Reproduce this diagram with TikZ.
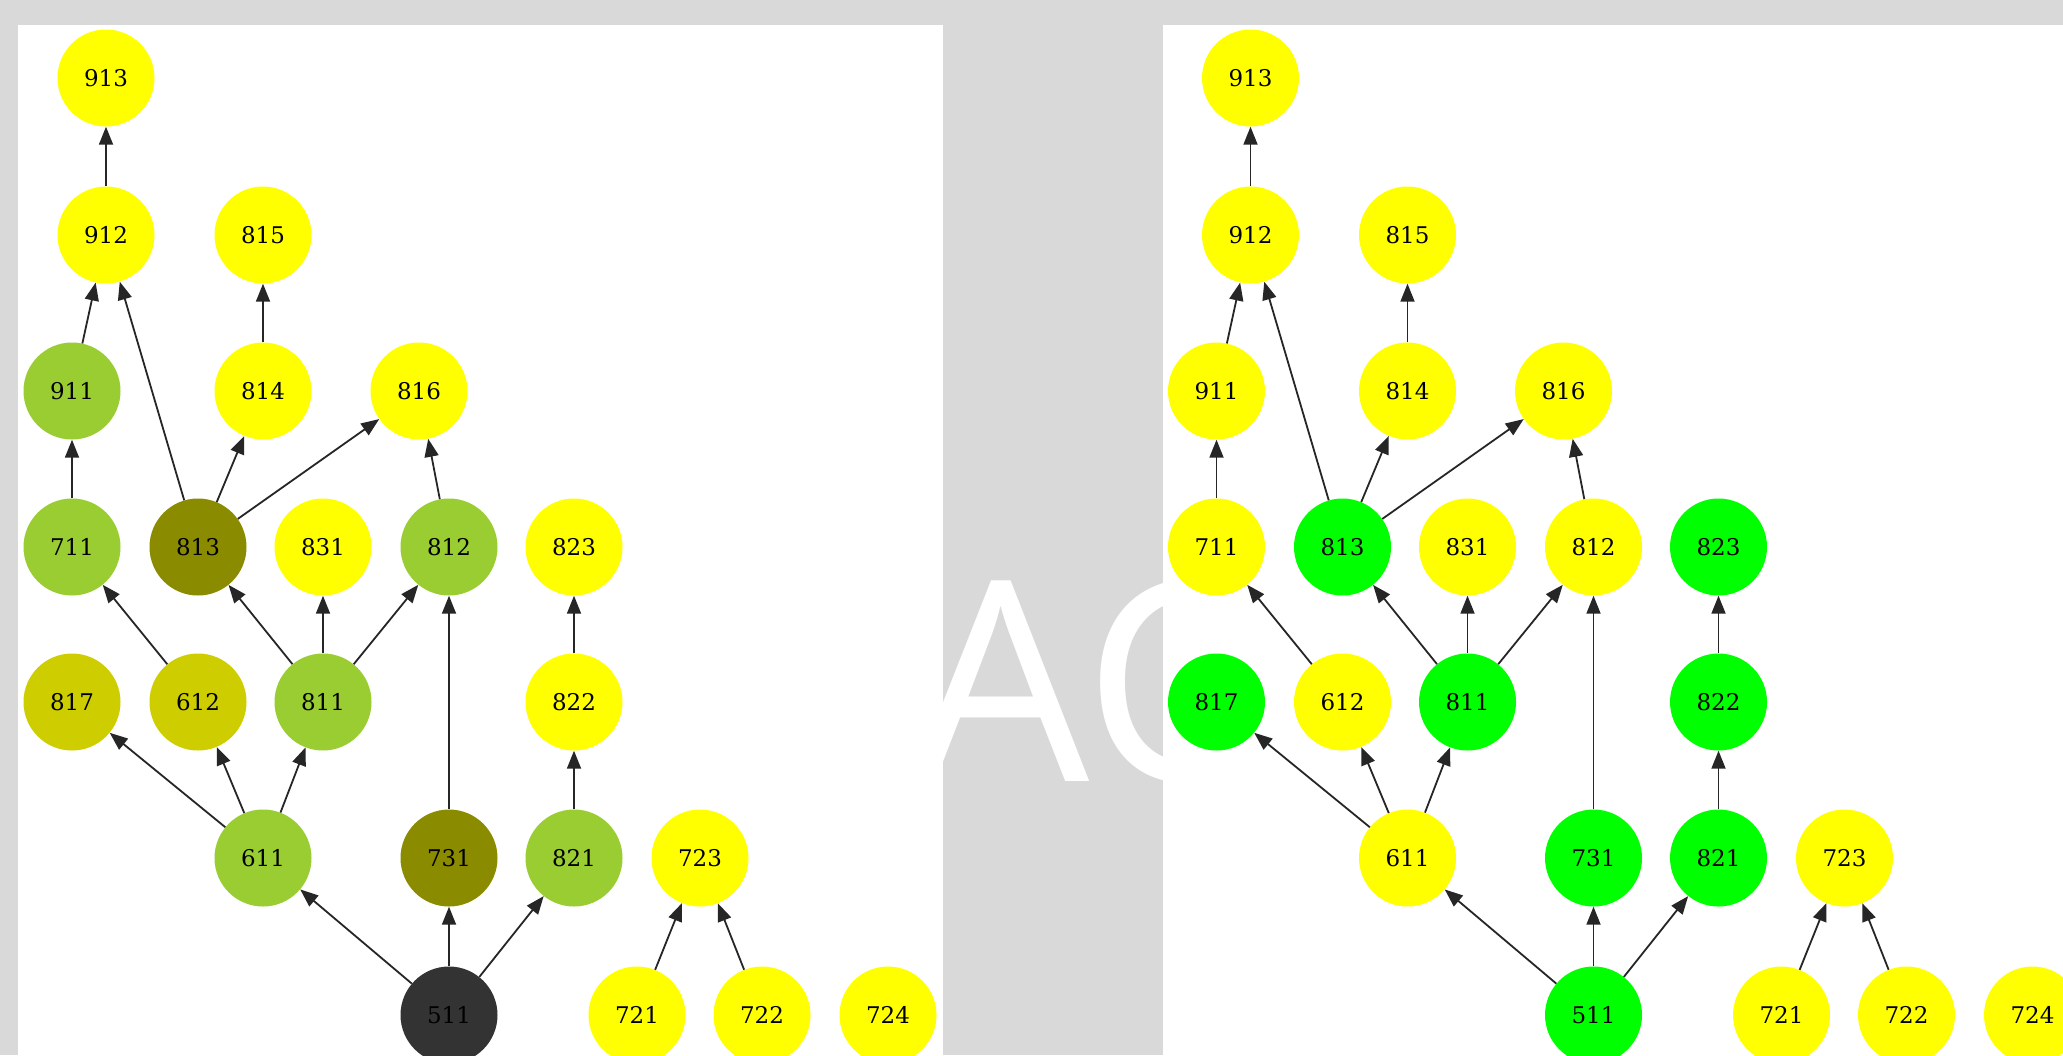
\documentclass[tikz,border=0pt]{standalone}
\usepackage{fontspec}
\setmainfont{DejaVu Serif}
\newfontfamily\wmfont{Open Sans}
\usetikzlibrary{arrows.meta}
\definecolor{bggray}{HTML}{D9D9D9}
\definecolor{ygreen}{HTML}{9ACD32}
\definecolor{yfour}{HTML}{8B8B00}
\definecolor{ythree}{HTML}{CDCD00}
\definecolor{greytwenty}{HTML}{333333}
\definecolor{gvgreen}{HTML}{00FF00}
\definecolor{gvyellow}{HTML}{FFFF00}
\tikzset{
	vert/.style={circle, fill=#1, minimum size=97pt, inner sep=0pt, font=\fontsize{23}{23}\selectfont},
	dep/.style={-{Triangle[length=18pt,width=14pt]}, line width=1.8pt, draw=black!85},
}
\begin{document}
\begin{tikzpicture}[x=1pt, y=-1pt, line join=round]
			\def\dx{1144.5}
			\useasboundingbox (0,0) rectangle (2063,1055);
			\fill[bggray] (0,0) rectangle (2063,1055);
			\node[anchor=base west, inner sep=0pt, text=white, font=\wmfont\fontsize{280}{280}\selectfont] (wm) at (912,781) {AC};
			% the two panels
			\fill[white] (18,25) rectangle (943,1055);
			\fill[white] (1163,25) rectangle (2063,1055);
			% name/x/y/left colour/right colour
			\foreach \n/\x/\y/\cl/\cr in {913/106/78/gvyellow/gvyellow, 912/106/235/gvyellow/gvyellow, 815/263/235/gvyellow/gvyellow,
				911/72/391/ygreen/gvyellow, 814/263/391/gvyellow/gvyellow, 816/419/391/gvyellow/gvyellow,
				711/72/547/ygreen/gvyellow, 813/198/547/yfour/gvgreen, 831/323/547/gvyellow/gvyellow, 812/449/547/ygreen/gvyellow, 823/574/547/gvyellow/gvgreen,
				817/72/702/ythree/gvgreen, 612/198/702/ythree/gvyellow, 811/323/702/ygreen/gvgreen, 822/574/702/gvyellow/gvgreen,
				611/263/858/ygreen/gvyellow, 731/449/858/yfour/gvgreen, 821/574/858/ygreen/gvgreen, 723/700/858/gvyellow/gvyellow,
				511/449/1015/greytwenty/gvgreen, 721/637/1015/gvyellow/gvyellow, 722/762/1015/gvyellow/gvyellow, 724/888/1015/gvyellow/gvyellow}
			{
				\node[vert=\cl] (a\n) at (\x,\y) {\n};
				\node[vert=\cr] (b\n) at (\x+\dx,\y) {\n};
			}
			\foreach \s/\t in {912/913, 911/912, 813/912, 814/815, 711/911, 813/814, 813/816, 812/816,
				612/711, 811/813, 811/831, 811/812, 731/812, 822/823, 611/817, 611/612, 611/811,
				821/822, 511/611, 511/731, 511/821, 721/723, 722/723}
			{
				\draw[dep] (a\s)--(a\t);
				\draw[dep] (b\s)--(b\t);
			}
\end{tikzpicture}
\end{document}
